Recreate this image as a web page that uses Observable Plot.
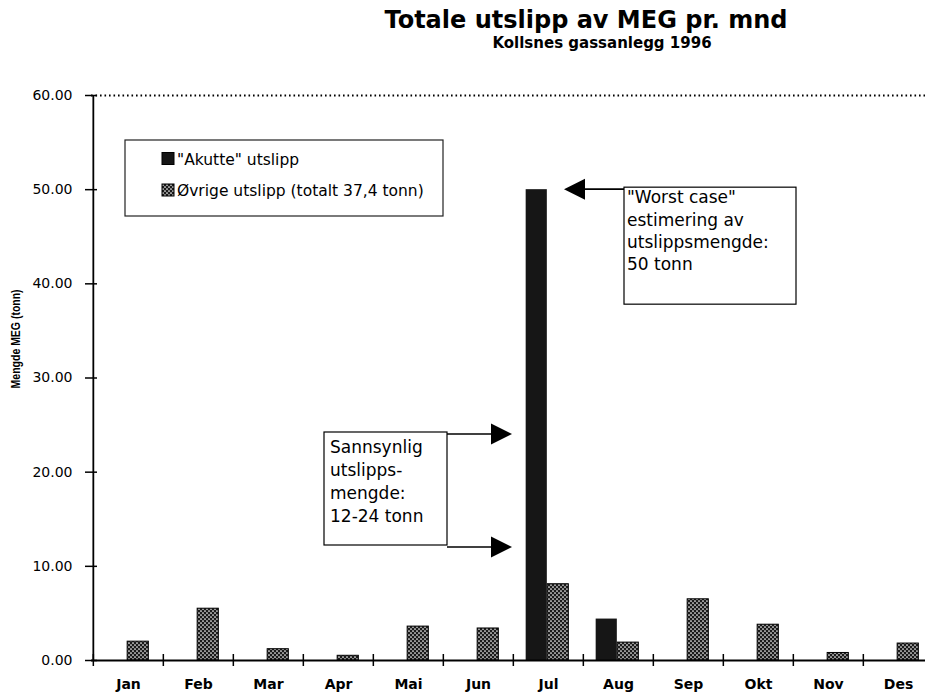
<!DOCTYPE html>
<html><head><meta charset="utf-8">
<script src="https://cdn.jsdelivr.net/npm/d3@7"></script>
<script src="https://cdn.jsdelivr.net/npm/@observablehq/plot@0.6"></script>
<style>
html,body{margin:0;padding:0;background:#fff;overflow:hidden;}
#wrap{position:relative;width:925px;height:694px;font-family:"DejaVu Sans",sans-serif;color:#000;}
#header{position:relative;height:70px;}
#title{position:absolute;left:586px;top:8px;transform:translateX(-50%);font-size:24px;font-weight:bold;line-height:24px;white-space:nowrap;}
#subtitle{position:absolute;left:602px;top:36px;transform:translateX(-50%);font-size:15px;font-weight:bold;line-height:15px;white-space:nowrap;}
</style></head>
<body><div id="wrap"><div id="header"><div id="title">Totale utslipp av MEG pr. mnd</div><div id="subtitle">Kollsnes gassanlegg 1996</div></div><div id="chart"></div></div>
<script>
const months = ["Jan","Feb","Mar","Apr","Mai","Jun","Jul","Aug","Sep","Okt","Nov","Des"];
const akutte = [0, 0, 0, 0, 0, 0, 50, 4.4, 0, 0, 0, 0];
const ovrige = [2.0, 5.5, 1.2, 0.5, 3.6, 3.4, 8.1, 1.9, 6.5, 3.8, 0.8, 1.8];
const yTicks = [0, 10, 20, 30, 40, 50, 60];
const seriesNames = ['"Akutte" utslipp', 'Øvrige utslipp (totalt 37,4 tonn)'];
const yTitle = "Mengde MEG (tonn)";
const worstLines = ['"Worst case"', 'estimering av', 'utslippsmengde:', '50 tonn'];
const worstValue = 50;
const likelyLines = ['Sannsynlig', 'utslipps-', 'mengde:', '12-24 tonn'];
const likelyRange = [12, 24];
const annotMonth = "Jul";

const akutteData = months.map((m, i) => ({month: m, value: akutte[i]})).filter(d => d.value > 0);
const ovrigeData = months.map((m, i) => ({month: m, value: ovrige[i]})).filter(d => d.value > 0);

const x0 = 91, x1 = 935;
const bw = (x1 - x0) / months.length;

const chart = Plot.plot({
  width: 925, height: 624,
  marginTop: 25, marginBottom: 34, marginLeft: 91, marginRight: 0,
  style: {fontFamily: "DejaVu Sans, sans-serif", fontSize: "14px", color: "#000", background: "#fff", overflow: "visible"},
  x: {domain: months, range: [x0, x1], padding: 0, axis: null},
  y: {domain: [0, 60], axis: null},
  marks: [
    Plot.ruleY([60], {stroke: "#000", strokeWidth: 2, strokeDasharray: "1.6,2.9"}),
    Plot.barY(ovrigeData, {x: "month", y: "value", fill: "url(#dots)", stroke: "#000", strokeWidth: 1, insetLeft: bw / 2 - 1, insetRight: bw / 2 - 20.5}),
    Plot.barY(akutteData, {x: "month", y: "value", fill: "#161616", insetLeft: bw / 2 - 22.5, insetRight: bw / 2 + 1}),
    Plot.ruleY([0], {stroke: "#000", strokeWidth: 1.8}),
    Plot.ruleX([months[0]], {x: d => d, dx: -bw / 2, y1: 0, y2: 60, stroke: "#000", strokeWidth: 1.8}),
    Plot.ruleX(months, {x: d => d, dx: -bw / 2, y1: 0, y2: 0, insetTop: -6, insetBottom: -6, stroke: "#000", strokeWidth: 1.5}),
    Plot.axisY({ticks: yTicks, tickFormat: d => d.toFixed(2), tickSize: 12, dx: 6, tickPadding: 13, fontSize: 14, label: null, strokeWidth: 1.5}),
    Plot.axisX({tickSize: 0, tickPadding: 19, fontSize: 14, fontWeight: "bold", label: null})
  ]
});
document.getElementById("chart").appendChild(chart);

const svg = d3.select(chart);
const defs = svg.insert("defs", ":first-child");
const pat = defs.append("pattern").attr("id", "dots").attr("width", 4).attr("height", 4).attr("patternUnits", "userSpaceOnUse");
pat.append("rect").attr("width", 4).attr("height", 4).attr("fill", "#1a1a1a");
pat.append("circle").attr("cx", 1).attr("cy", 1).attr("r", 0.85).attr("fill", "#fff");
pat.append("circle").attr("cx", 3).attr("cy", 3).attr("r", 0.85).attr("fill", "#fff");

const sx = chart.scale("x"), sy = chart.scale("y");
const center = m => sx.apply(m) + sx.bandwidth / 2;
const Y = v => sy.apply(v);

const g = svg.append("g").attr("font-family", "DejaVu Sans, sans-serif").attr("fill", "#000").attr("text-anchor", "start");

// Y-axis title (rotated)
g.append("text")
  .attr("transform", `translate(${x0 - 71},${Y(34.1)}) rotate(-90) scale(1,1.3)`)
  .attr("text-anchor", "middle").attr("font-family", "Liberation Sans, Arial, sans-serif")
  .attr("font-weight", "bold").attr("font-size", 10.5).text(yTitle);

function arrow(tipX, y, fromX, dir) {
  const hl = 21, hw = 10.5;
  g.append("line").attr("x1", fromX).attr("x2", tipX - dir * (hl - 2)).attr("y1", y).attr("y2", y)
    .attr("stroke", "#000").attr("stroke-width", 1.6);
  g.append("polygon").attr("points", `${tipX},${y} ${tipX - dir * hl},${y - hw} ${tipX - dir * hl},${y + hw}`).attr("fill", "#000");
}

// Worst case annotation
const cJ = center(annotMonth);
const yW = Y(worstValue);
const wx = cJ + 76, wy = yW - 2, ww = 172, wh = 117;
g.append("rect").attr("x", wx).attr("y", wy).attr("width", ww).attr("height", wh)
  .attr("fill", "#fff").attr("stroke", "#000").attr("stroke-width", 1.2);
arrow(cJ + 16, yW, wx, -1);
worstLines.forEach((t, i) => g.append("text").attr("x", wx + 3).attr("y", yW + 14 + i * 22.4)
  .attr("font-size", 17).text(t));

// Likely annotation
const yHi = Y(likelyRange[1]), yLo = Y(likelyRange[0]);
const tipL = cJ - 36;
const lr = tipL - 65, ll = lr - 123;
g.append("rect").attr("x", ll).attr("y", yHi - 2).attr("width", lr - ll).attr("height", yLo - yHi)
  .attr("fill", "#fff").attr("stroke", "#000").attr("stroke-width", 1.2);
arrow(tipL, yHi, lr, 1);
arrow(tipL, yLo, lr, 1);
likelyLines.forEach((t, i) => g.append("text").attr("x", ll + 6).attr("y", yHi + 19 + i * 23)
  .attr("font-size", 17).text(t));

// Legend
const lx = x0 + 34, ly = 25 + 45;
g.append("rect").attr("x", lx).attr("y", ly).attr("width", 318).attr("height", 76)
  .attr("fill", "#fff").attr("stroke", "#222").attr("stroke-width", 1.2);
const swFill = ["#161616", "url(#dots)"];
seriesNames.forEach((t, i) => {
  const cy = ly + (i === 0 ? 18.5 : 50);
  g.append("rect").attr("x", lx + 37).attr("y", cy - 6).attr("width", 12).attr("height", 12)
    .attr("fill", swFill[i]).attr("stroke", "#000").attr("stroke-width", 1);
  g.append("text").attr("x", lx + 52).attr("y", cy + 6).attr("font-size", 15.5).text(t);
});
</script>
</body></html>
